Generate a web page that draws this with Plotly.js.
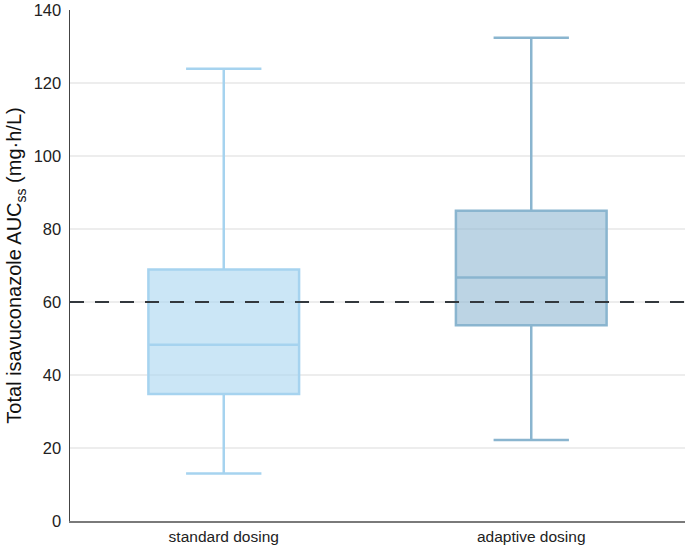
<!DOCTYPE html>
<html>
<head>
<meta charset="utf-8">
<script src="https://cdn.plot.ly/plotly-3.0.1.min.js"></script>
<style>html,body{margin:0;padding:0;background:#fff;}#chart{width:685px;height:548px;}</style>
</head>
<body>
<div id="chart"></div>
<script>
const categories = ["standard dosing", "adaptive dosing"];
const lowerWhisker = [13.0, 22.2];
const q1Values = [34.8, 53.6];
const medianValues = [48.3, 66.7];
const q3Values = [68.9, 85.0];
const upperWhisker = [123.9, 132.4];
const fillColors = ["rgba(168,213,240,0.6)", "rgba(143,184,210,0.6)"];
const lineColors = ["#a6d3ef", "#8ab5cf"];
const thresholdValue = 60;
const yTicks = [0, 20, 40, 60, 80, 100, 120, 140];

const traces = categories.map((c, i) => ({
  type: "box",
  name: c,
  x: [c],
  q1: [q1Values[i]],
  median: [medianValues[i]],
  q3: [q3Values[i]],
  lowerfence: [lowerWhisker[i]],
  upperfence: [upperWhisker[i]],
  boxpoints: false,
  width: 0.49,
  fillcolor: fillColors[i],
  line: { color: lineColors[i], width: 2.5 },
  whiskerwidth: 0.5,
  showlegend: false,
  hoverinfo: "skip"
}));

const layout = {
  width: 685,
  height: 548,
  margin: { l: 70, r: 0, t: 10, b: 27 },
  paper_bgcolor: "#ffffff",
  plot_bgcolor: "#ffffff",
  font: { family: "Liberation Sans, Arial, sans-serif", color: "#222" },
  xaxis: {
    type: "category",
    categoryorder: "array",
    categoryarray: categories,
    range: [-0.5, 1.5],
    showline: true,
    linecolor: "#7a7a7a",
    linewidth: 2,
    showgrid: false,
    ticks: "",
    automargin: false,
    tickfont: { size: 15.5, color: "#222" },
    zeroline: false
  },
  yaxis: {
    range: [0, 140],
    tickmode: "array",
    tickvals: yTicks,
    ticktext: yTicks.map(String),
    showline: true,
    linecolor: "#444",
    linewidth: 1.5,
    showgrid: true,
    gridcolor: "#ededed",
    gridwidth: 1.5,
    zeroline: false,
    ticks: "",
    ticklabelstandoff: 4,
    automargin: false,
    tickfont: { size: 16.5, color: "#222" },
    title: {
      text: "Total isavuconazole AUC<sub>ss</sub> (mg·h/L)",
      font: { size: 20, color: "#111" },
      standoff: 6
    }
  },
  shapes: [{
    type: "line",
    xref: "paper",
    x0: 0,
    x1: 1,
    yref: "y",
    y0: thresholdValue,
    y1: thresholdValue,
    line: { color: "#33383d", width: 2, dash: "14px,11px" },
    layer: "above"
  }]
};

Plotly.newPlot("chart", traces, layout, { displayModeBar: false, staticPlot: true }).then(() => {
  document.querySelectorAll(".ytick text").forEach(t => { t.style.display = ""; t.removeAttribute("display"); });
});
</script>
</body>
</html>
